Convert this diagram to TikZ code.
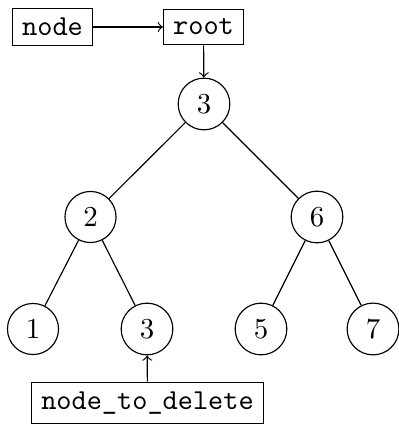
\documentclass[tikz,border=0pt]{standalone}
\begin{document}
\begin{tikzpicture}[x=0.346pt,y=-0.346pt,
  tnode/.style={circle,draw},
  ptr/.style={draw,font=\ttfamily},
  arr/.style={->}]
\useasboundingbox (0,0) rectangle (398,424);
\node[ptr] (node) at (52.5,27) {node};
\node[ptr] (root) at (203.5,27) {root};
\node[tnode] (n3) at (204,104) {3};
\node[tnode] (n2) at (90.5,217) {2};
\node[tnode] (n6) at (317,217) {6};
\node[tnode] (n1) at (33,329) {1};
\node[tnode] (n3b) at (147,329) {3};
\node[tnode] (n5) at (261,329) {5};
\node[tnode] (n7) at (373,329) {7};
\node[ptr] (del) at (147.5,403) {node\_to\_delete};
\draw[arr] (node) -- (root);
\draw[arr] (root) -- (n3);
\draw (n3) -- (n2);
\draw (n3) -- (n6);
\draw (n2) -- (n1);
\draw (n2) -- (n3b);
\draw (n6) -- (n5);
\draw (n6) -- (n7);
\draw[arr] (del) -- (n3b);
\end{tikzpicture}
\end{document}
